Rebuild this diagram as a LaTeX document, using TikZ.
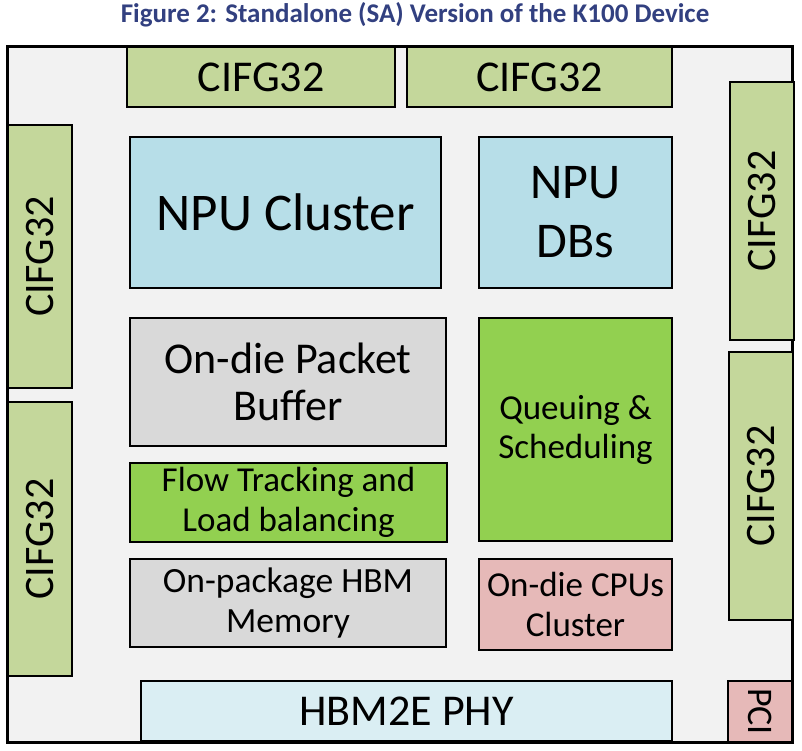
\documentclass[tikz,border=0pt]{standalone}
\usepackage{fontspec}
\setmainfont{Carlito}
\definecolor{cifg}{HTML}{C4D79B}
\definecolor{npublue}{HTML}{B7DEE8}
\definecolor{phyblue}{HTML}{DAEEF3}
\definecolor{buffgray}{HTML}{D9D9D9}
\definecolor{brightgreen}{HTML}{92D050}
\definecolor{cpupink}{HTML}{E6B9B8}
\definecolor{diefill}{HTML}{F2F2F2}
\definecolor{captionblue}{RGB}{50,64,128}
\begin{document}
\begin{tikzpicture}[x=1pt, y=-1pt,
    blk/.style={draw, line width=2.5pt, inner sep=0pt, align=center},
    cifgbox/.style={blk, fill=cifg, font=\fontsize{42}{44}\selectfont}]
    \useasboundingbox (0,0) rectangle (802,750);
    % caption
    \node[font=\bfseries\fontsize{27}{29}\selectfont, text=captionblue] (title) at (415,15) {Figure 2: Standalone (SA) Version of the K100 Device};
    % die outline
    \node[draw, line width=3pt, fill=diefill, minimum width=785, minimum height=696] (die) at (399.5,394) {};
    % interfaces round the edge
    \node[cifgbox, minimum width=268, minimum height=60, font=\fontsize{44}{46}\selectfont] (cifgtopa) at (261,77) {CIFG32};
    \node[cifgbox, minimum width=265, minimum height=60, font=\fontsize{44}{46}\selectfont] (cifgtopb) at (539.5,77) {CIFG32};
    \node[cifgbox, rotate=90, minimum width=263, minimum height=64] (cifglefta) at (40,256.5) {CIFG32};
    \node[cifgbox, rotate=90, minimum width=274, minimum height=64] (cifgleftb) at (40,539) {CIFG32};
    \node[cifgbox, rotate=90, minimum width=258, minimum height=64] (cifgrighta) at (762,211) {CIFG32};
    \node[cifgbox, rotate=90, minimum width=268, minimum height=64] (cifgrightb) at (761,486) {CIFG32};
    % core blocks
    \node[blk, fill=npublue, minimum width=311, minimum height=151, font=\fontsize{53}{56}\selectfont] (npucluster) at (285.5,212.5) {NPU Cluster};
    \node[blk, fill=npublue, minimum width=193, minimum height=151, font=\fontsize{50}{59}\selectfont] (npudbs) at (575.5,212.5) {NPU\\DBs};
    \node[blk, fill=buffgray, minimum width=316, minimum height=128, font=\fontsize{44}{47}\selectfont] (pktbuf) at (288,382) {On-die Packet\\Buffer};
    \node[blk, fill=brightgreen, minimum width=193, minimum height=223, font=\fontsize{35}{39}\selectfont] (queuing) at (575.5,429.5) {Queuing \&\\Scheduling};
    \node[blk, fill=brightgreen, minimum width=317, minimum height=79, font=\fontsize{35}{40}\selectfont] (flow) at (288.5,502.5) {Flow Tracking and\\Load balancing};
    \node[blk, fill=buffgray, minimum width=316, minimum height=88, font=\fontsize{35.5}{40}\selectfont] (hbmmem) at (288,603) {On-package HBM\\Memory};
    \node[blk, fill=cpupink, minimum width=193, minimum height=91, font=\fontsize{35}{40}\selectfont] (cpus) at (575.5,604.5) {On-die CPUs\\Cluster};
    \node[blk, fill=phyblue, minimum width=531, minimum height=60, font=\fontsize{44}{46}\selectfont] (hbmphy) at (406.5,711) {HBM2E PHY};
    \node[blk, fill=cpupink, rotate=-90, minimum width=61, minimum height=64, font=\fontsize{36}{38}\selectfont] (pci) at (760,711.5) {PCI};
\end{tikzpicture}
\end{document}
